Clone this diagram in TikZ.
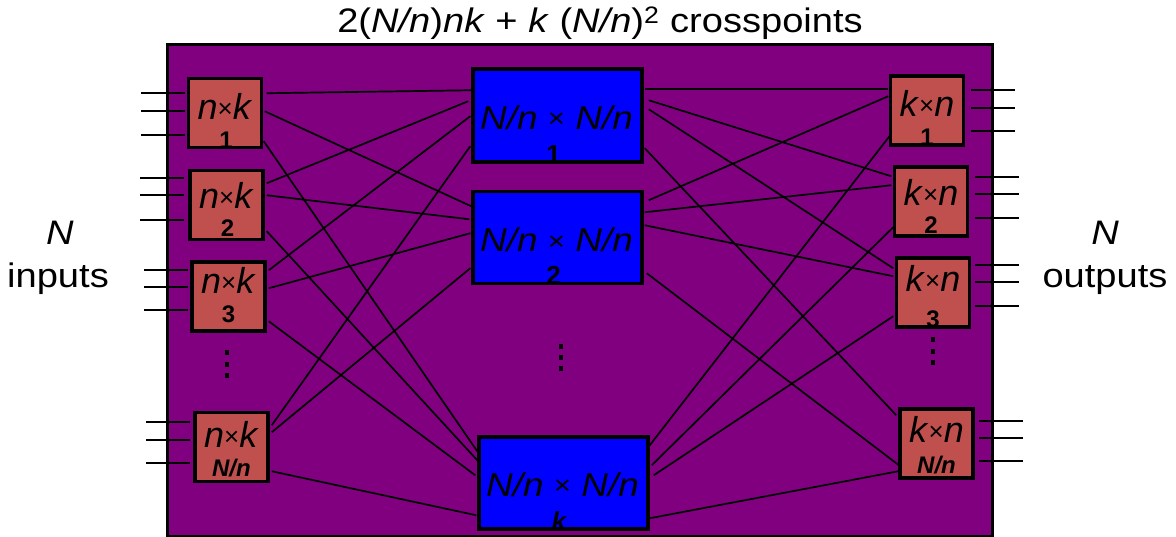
\documentclass[tikz,border=0pt]{standalone}
\usepackage{fontspec}
\setmainfont{Liberation Sans}
\usetikzlibrary{calc}
\definecolor{purp}{HTML}{800080}
\definecolor{boxred}{HTML}{C0504D}
\newcommand\hs[1]{\scalebox{1.12}[1]{#1}}
\newcommand\tms{\raisebox{0.05em}{\scalebox{0.8}{×}}}
\newcommand\stms{\raisebox{0.05em}{\scalebox{0.72}{×}}}
\begin{document}
\begin{tikzpicture}[x=1pt,y=-1pt,
  frm/.style={draw=black,line width=3pt,fill=purp,minimum width=825pt,minimum height=491pt,inner sep=0pt},
  sbox/.style={draw=black,line width=3.5pt,fill=boxred,minimum width=73pt,minimum height=69pt,inner sep=0pt},
  mbox/.style={draw=black,line width=3.5pt,fill=blue,minimum width=169pt,minimum height=92pt,inner sep=0pt},
  wire/.style={black,line width=1.7pt},
  io/.style={black,line width=1.8pt},
  stxt/.style={anchor=base,inner sep=0pt,font=\fontsize{36}{42}\selectfont},
  snum/.style={anchor=base,inner sep=0pt,font=\bfseries\fontsize{24}{28}\selectfont},
  mtxt/.style={anchor=base,inner sep=0pt,font=\fontsize{33}{39}\selectfont},
  mnum/.style={anchor=base,inner sep=0pt,font=\bfseries\fontsize{26}{30}\selectfont},
  big/.style={anchor=base,inner sep=0pt,font=\fontsize{34}{40}\selectfont}]
\useasboundingbox (0,0) rectangle (1176,537);
% title and side labels
\node[big] (title) at (600,33) {\hs{2(\textit{N/n})\textit{nk} + \textit{k} (\textit{N/n})\textsuperscript{2} crosspoints}};
\node[big] (inN) at (60,245) {\hs{\textit{N}}};
\node[big] (inL) at (58,288) {\hs{inputs}};
\node[big] (outN) at (1105,245) {\hs{\textit{N}}};
\node[big] (outL) at (1105,288) {\hs{outputs}};
% frame
\node[frm] (frame) at (579.5,290.5) {};
% boxes
\node[sbox] (L1) at (225,113) {};
\node[sbox] (L2) at (226.5,205) {};
\node[sbox] (L3) at (228.5,296.5) {};
\node[sbox] (LN) at (231.5,447) {};
\node[sbox] (R1) at (927,110.5) {};
\node[sbox] (R2) at (931,201.5) {};
\node[sbox] (R3) at (933,292.5) {};
\node[sbox] (RN) at (936.5,443.5) {};
\node[mbox,minimum height=93pt] (M1) at (557.5,115.5) {};
\node[mbox] (M2) at (557.5,237.5) {};
\node[mbox] (Mk) at (563.5,483) {};
% input / output stubs
\foreach \nd/\dx/\dy in {L1/-1.5/16.5,L1/-1.5/34.5,L1/-1.5/58.5,
                         L2/-4/9.5,L2/-4/26.5,L2/-4/51.5,
                         L3/-2/10,L3/-2/27,L3/-2/50,
                         LN/-3/11.5,LN/-3/29.5,LN/-3/52.5}
  \draw[io] ($(\nd.north west)+(\dx,\dy)$) -- ++(-44,0);
\foreach \nd/\dx/\dy in {R1/5.5/16,R1/5.5/34,R1/5.5/57,
                         R2/5.5/12,R2/5.5/29,R2/5.5/53,
                         R3/3.5/9,R3/3.5/26,R3/3.5/50,
                         RN/4/14,RN/4/31,RN/4/54}
  \draw[io] ($(\nd.north east)+(\dx,\dy)$) -- ++(44,0);
% left wiring
\foreach \a/\ax/\ay/\b/\bx/\by in {
  L1/3.5/16.5/M1/0/23, L1/1.5/34.5/M2/0/16.5, L1/0.5/64.5/Mk/0/16,
  L2/2/14.5/M1/-3/34, L2/2/26.5/M2/-2/29.5, L2/2/62.5/Mk/0/25,
  L3/2/10/M1/-1/49, L3/2/28/M2/-1/43.5, L3/2/61/Mk/-2/40,
  LN/2/14.5/M1/-1/79, LN/2/21.5/M2/-1/78.5, LN/2/60.5/Mk/-1/80}
  \draw[wire] ($(\a.north east)+(\ax,\ay)$) -- ($(\b.north west)+(\bx,\by)$);
% right wiring
\foreach \a/\ax/\ay/\b/\bx/\by in {
  M1/1/22/R1/-0.5/15, M1/5/33/R2/-1.5/11, M1/5/42/R3/-1.5/12, M1/1/81/RN/-2/8,
  M2/5/10.5/R1/-0.5/22, M2/1/22.5/R2/-1.5/20, M2/1/35.5/R3/-1.5/20, M2/3/83.5/RN/2/59,
  Mk/0/10/R1/1.5/61, Mk/2/30/R2/0.5/62, Mk/4/40/R3/-1.5/60, Mk/0/83/RN/0/64}
  \draw[wire] ($(\a.north east)+(\ax,\ay)$) -- ($(\b.north west)+(\bx,\by)$);
% box texts
\node[stxt] (L1t) at ($(L1.north)+(0,43)$) {\textit{n}\stms\textit{k}};
\node[snum] (L1n) at ($(L1.south)+(1,-1)$) {1};
\node[stxt] (L2t) at ($(L2.north)+(0,39.5)$) {\textit{n}\stms\textit{k}};
\node[snum] (L2n) at ($(L2.south)+(1,-4.5)$) {2};
\node[stxt] (L3t) at ($(L3.north)+(0,33)$) {\textit{n}\stms\textit{k}};
\node[snum] (L3n) at ($(L3.south)+(0,-10)$) {3};
\node[stxt] (LNt) at ($(LN.north)+(0,36.5)$) {\textit{n}\stms\textit{k}};
\node[snum] (LNn) at ($(LN.south)+(0,-6.5)$) {\textit{N/n}};
\node[stxt] (R1t) at ($(R1.north)+(0,42)$) {\textit{k}\stms\textit{n}};
\node[snum] (R1n) at ($(R1.south)+(0,-1)$) {1};
\node[stxt] (R2t) at ($(R2.north)+(0,40)$) {\textit{k}\stms\textit{n}};
\node[snum] (R2n) at ($(R2.south)+(0,-4)$) {2};
\node[stxt] (R3t) at ($(R3.north)+(0,35)$) {\textit{k}\stms\textit{n}};
\node[snum] (R3n) at ($(R3.south)+(0,-1)$) {3};
\node[stxt] (RNt) at ($(RN.north)+(0,35)$) {\textit{k}\stms\textit{n}};
\node[snum] (RNn) at ($(RN.south)+(0,-6)$) {\textit{N/n}};
\node[mtxt] (M1t) at ($(M1.north)+(-1,62)$) {\hs{\textit{N/n} \tms{} \textit{N/n}}};
\node[mnum] (M1n) at ($(M1.south)+(-4,0)$) {1};
\node[mtxt] (M2t) at ($(M2.north)+(-1,62)$) {\hs{\textit{N/n} \tms{} \textit{N/n}}};
\node[mnum] (M2n) at ($(M2.south)+(-4,-1)$) {2};
\node[mtxt] (Mkt) at ($(Mk.north)+(-1,61)$) {\hs{\textit{N/n} \tms{} \textit{N/n}}};
\node[mnum] (Mkn) at ($(Mk.south)+(-4,0)$) {\textit{k}};
% ellipsis dots
\foreach \y in {353,365,376} \fill (224.7,\y-2.5) rectangle ++(4.6,5);
\foreach \y in {340,352,363} \fill (930.7,\y-2.5) rectangle ++(4.6,5);
\foreach \y in {347,358,369} \fill (558.7,\y-2.5) rectangle ++(4.6,5);
\end{tikzpicture}
\end{document}
